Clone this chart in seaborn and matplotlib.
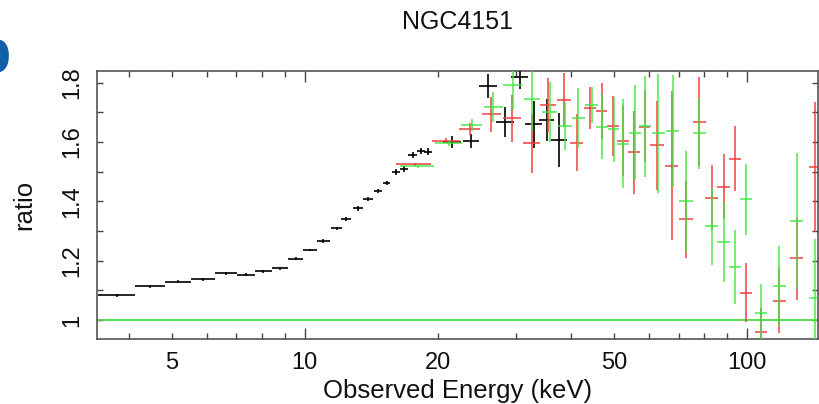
"""
NGC4151 ratio plot: data/model ratio vs observed energy (three instruments)
"""
import seaborn as sns
import matplotlib.pyplot as plt
from matplotlib.ticker import FixedLocator, FuncFormatter

sns.set_style("ticks")
plt.rcParams['font.family'] = ['Liberation Sans', 'DejaVu Sans']
plt.rcParams['text.color'] = '#111111'
plt.rcParams['axes.labelcolor'] = '#111111'

# black spectrum (low energy instrument)
black_energy = [3.77, 4.475, 5.18, 5.90, 6.635, 7.36, 8.06, 8.79, 9.54, 10.27, 11.01,
                11.8, 12.4, 13.2, 13.9, 14.65, 15.3, 16.07, 16.78, 17.52, 18.3, 19.0,
                21.5, 23.8, 26.0, 28.35, 30.6, 32.9, 35.2, 37.6]
black_ewidth = [0.36, 0.345, 0.36, 0.36, 0.375, 0.35, 0.35, 0.38, 0.37, 0.36, 0.38,
                0.35, 0.30, 0.32, 0.33, 0.33, 0.30, 0.35, 0.35, 0.37, 0.38, 0.38,
                1.0, 1.0, 1.2, 1.3, 1.3, 1.4, 1.4, 1.5]
black_ratio = [1.084, 1.114, 1.129, 1.137, 1.158, 1.153, 1.164, 1.174, 1.206, 1.236, 1.266,
               1.309, 1.340, 1.376, 1.407, 1.435, 1.462, 1.499, 1.509, 1.555, 1.570, 1.567,
               1.600, 1.604, 1.789, 1.668, 1.819, 1.659, 1.673, 1.606]
black_err = [0.005, 0.005, 0.005, 0.005, 0.005, 0.005, 0.005, 0.005, 0.005, 0.005, 0.006,
             0.006, 0.006, 0.007, 0.007, 0.008, 0.008, 0.009, 0.009, 0.010, 0.011, 0.012,
             0.020, 0.024, 0.040, 0.050, 0.040, 0.080, 0.070, 0.090]

# red spectrum
red_energy = [17.7, 20.9, 23.6, 26.4, 29.4, 32.6, 35.5, 38.5, 41.2, 44.1, 46.9, 49.7, 52.5,
              55.6, 58.6, 62.5, 67.5, 72.8, 77.9, 83.2, 88.4, 93.9, 99.3, 107.6, 118.3,
              129.4, 142.3]
red_ewidth = [1.6, 1.5, 1.3, 1.3, 1.4, 1.4, 1.4, 1.4, 1.4, 1.4, 1.4, 1.5, 1.6,
              1.7, 1.8, 2.2, 2.3, 2.5, 2.6, 2.8, 3.0, 3.1, 3.2, 3.5, 3.8, 4.2, 4.6]
red_ratio = [1.525, 1.604, 1.645, 1.693, 1.679, 1.595, 1.724, 1.741, 1.598, 1.715, 1.704,
             1.654, 1.604, 1.565, 1.651, 1.589, 1.520, 1.339, 1.668, 1.412, 1.449, 1.544,
             1.092, 0.961, 1.065, 1.208, 1.516]
red_err = [0.005, 0.008, 0.020, 0.060, 0.080, 0.100, 0.090, 0.090, 0.095, 0.070, 0.095,
           0.100, 0.120, 0.140, 0.120, 0.150, 0.250, 0.130, 0.150, 0.110, 0.110, 0.110,
           0.100, 0.080, 0.110, 0.140, 0.220]

# green spectrum
green_energy = [18.0, 21.2, 23.9, 26.7, 29.5, 32.7, 35.8, 38.7, 41.5, 44.5, 46.9, 49.9, 52.5,
                55.8, 58.7, 63.0, 67.8, 72.8, 77.9, 83.2, 88.4, 93.9, 99.3, 107.6, 118.3,
                129.4, 142.3]
green_ewidth = red_ewidth
green_ratio = [1.519, 1.595, 1.657, 1.718, 1.791, 1.746, 1.701, 1.653, 1.681, 1.724, 1.651,
               1.642, 1.594, 1.631, 1.653, 1.629, 1.637, 1.400, 1.629, 1.316, 1.264, 1.180,
               1.407, 1.023, 1.115, 1.333, 1.073]
green_err = [0.006, 0.008, 0.020, 0.050, 0.085, 0.110, 0.100, 0.080, 0.100, 0.060, 0.110,
             0.110, 0.150, 0.160, 0.170, 0.200, 0.190, 0.170, 0.120, 0.130, 0.135, 0.125,
             0.120, 0.100, 0.135, 0.230, 0.200]

fig = plt.figure(figsize=(8.19, 4.04), dpi=100)
ax = fig.add_axes([0.118, 0.160, 0.881, 0.665])

ax.axhline(1.0, color='#44dd44', lw=1.3, zorder=1)

style = dict(fmt='none', lw=1.2, capsize=0)
ax.errorbar(black_energy, black_ratio, xerr=black_ewidth, yerr=black_err,
            ecolor='black', zorder=3, **style)
ax.errorbar(red_energy, red_ratio, xerr=red_ewidth, yerr=red_err,
            ecolor='#f03a3a', alpha=0.9, zorder=4, **style)
ax.errorbar(green_energy, green_ratio, xerr=green_ewidth, yerr=green_err,
            ecolor='#3ee83e', alpha=0.85, zorder=5, **style)

ax.set_xscale('log')
ax.set_xlim(3.384, 144.7)
ax.set_ylim(0.935, 1.84)

ax.xaxis.set_major_locator(FixedLocator([10, 100]))
ax.xaxis.set_minor_locator(FixedLocator([4, 5, 6, 7, 8, 9, 20, 30, 40, 50, 60, 70, 80, 90]))
ax.xaxis.set_major_formatter(FuncFormatter(lambda v, p: f"{v:g}"))
ax.xaxis.set_minor_formatter(FuncFormatter(lambda v, p: f"{v:g}" if v in (5, 20, 50) else ""))
ax.yaxis.set_major_locator(FixedLocator([1.0, 1.2, 1.4, 1.6, 1.8]))
ax.yaxis.set_minor_locator(FixedLocator([1.1, 1.3, 1.5, 1.7]))
ax.yaxis.set_major_formatter(FuncFormatter(lambda v, p: f"{v:g}"))

ax.tick_params(axis='x', which='major', direction='in', length=8, width=1, top=True,
               pad=9, labelsize=17, color='#444444', labelcolor='#111111')
ax.tick_params(axis='x', which='minor', direction='in', length=4, width=1, top=True,
               pad=9, labelsize=17, color='#444444', labelcolor='#111111')
ax.tick_params(axis='y', which='both', direction='in', length=4, width=1, right=True,
               pad=10, labelsize=17, labelrotation=90, color='#444444', labelcolor='#111111')
for lab in ax.get_yticklabels():
    lab.set_va('center')

for sp in ax.spines.values():
    sp.set_color('#555555')
    sp.set_linewidth(1.2)

ax.set_xlabel("Observed Energy (keV)", fontsize=18.5, labelpad=4)
ax.set_ylabel("ratio", fontsize=18.5, labelpad=18)
ax.set_title("NGC4151", fontsize=18, pad=30)

# panel letter, cut by the left edge as in the reference
fig.text(0.0135, 1 - 72 / 404, "b", color='#1060a8', fontsize=44, fontweight='bold',
         ha='right', va='baseline')

fig.savefig("out.png", dpi=100)
